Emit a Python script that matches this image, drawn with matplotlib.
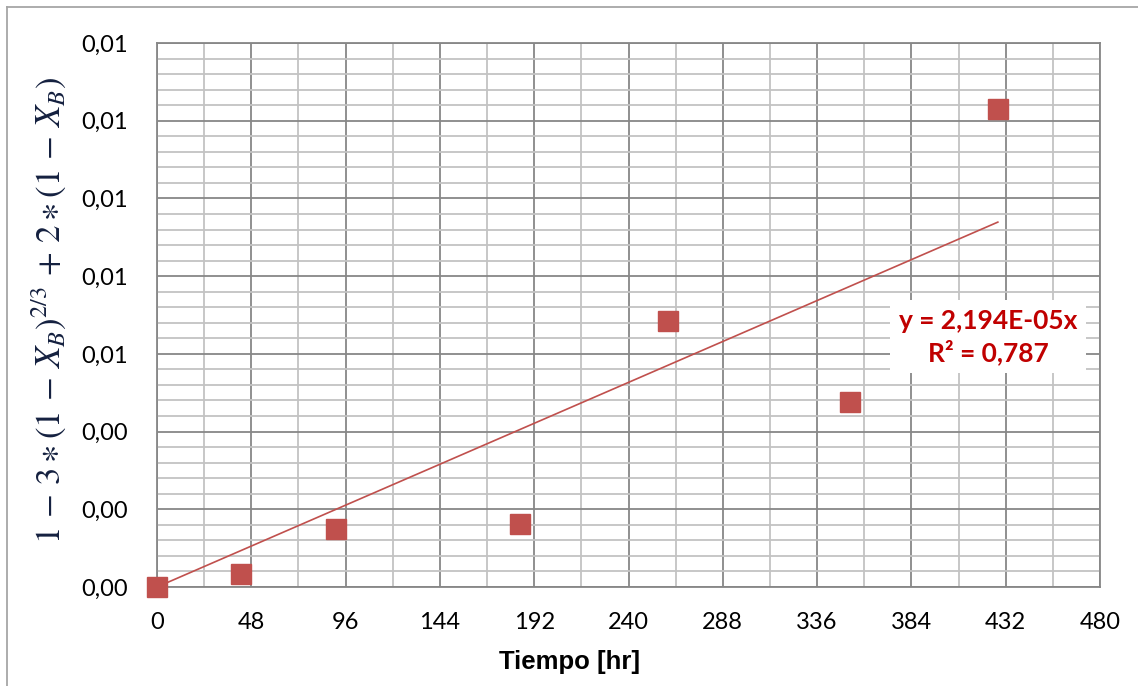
import matplotlib
matplotlib.use("Agg")
import matplotlib.pyplot as plt
from matplotlib.ticker import MultipleLocator, FuncFormatter
from matplotlib.lines import Line2D
import numpy as np

# Measured data: time [hr] vs shrinking-core conversion function
tiempo = [0, 43, 91, 185, 260, 353, 428]
g_xb = [0.0, 0.00034, 0.00149, 0.00161, 0.00685, 0.00476, 0.01230]

# Linear trend through the origin
pendiente = 2.194e-05
r2 = 0.787

x_ticks = [0, 48, 96, 144, 192, 240, 288, 336, 384, 432, 480]
y_ticks = [0.000, 0.002, 0.004, 0.006, 0.008, 0.010, 0.012, 0.014]

marker_color = "#c0504d"
major_grid = "#878787"
minor_grid = "#c3c3c3"

plt.rcParams["mathtext.fontset"] = "stix"

fig = plt.figure(figsize=(11.38, 6.86), dpi=100)
ax = fig.add_axes([157 / 1138, 1 - 587 / 686, (1100 - 157) / 1138, (587 - 43) / 686])

ax.set_xlim(0, 480)
ax.set_ylim(0, 0.014)
ax.set_xticks(x_ticks)
ax.set_yticks(y_ticks)
ax.xaxis.set_minor_locator(MultipleLocator(24))
ax.yaxis.set_minor_locator(MultipleLocator(0.0004))

ax.grid(which="minor", color=minor_grid, linewidth=1.3, zorder=0)
ax.grid(which="major", color=major_grid, linewidth=1.3, zorder=0.5)
ax.set_axisbelow(True)
for s in ax.spines.values():
    s.set_color(major_grid)
    s.set_linewidth(1.3)

ax.tick_params(which="both", length=0)
ax.tick_params(axis="x", labelsize=17, pad=18)
ax.tick_params(axis="y", labelsize=17, pad=21)
for lab in ax.get_xticklabels() + ax.get_yticklabels():
    lab.set_fontfamily("Lato")
ax.yaxis.set_major_formatter(FuncFormatter(lambda v, p: f"{v:.2f}".replace(".", ",")))

# Trend line
xt = np.array([0, max(tiempo)])
ax.plot(xt, pendiente * xt, color=marker_color, linewidth=1.2, zorder=2)

# Data points
ax.plot(tiempo, g_xb, linestyle="none", marker="s", markersize=14.4,
        color=marker_color, zorder=3, clip_on=False)

ax.text(423, 0.00644,
        f"y = {pendiente:.3E}x".replace(".", ",") + "\n" +
        f"R² = {r2:.3f}".replace(".", ","),
        ha="center", va="center", fontsize=19, fontweight="bold",
        fontfamily="Lato", color="#c00000", linespacing=1.3,
        bbox=dict(facecolor="white", edgecolor="none", pad=6), zorder=4)

fig.text(570 / 1138, 1 - 662 / 686, "Tiempo [hr]", fontsize=18.5,
         fontweight="bold", fontfamily="Liberation Sans",
         ha="center", va="center")

fig.text(49 / 1138, 1 - 310 / 686,
         r"$1\,-\,3\ast(1\,-\,X_B)^{2/3}\,+\,2\ast(1\,-\,X_B)$",
         rotation=90, ha="center", va="center", fontsize=25, color="#14203f")

# Chart area frame
fig.add_artist(Line2D([7 / 1138, 7 / 1138], [0, 1 - 7 / 686],
                      transform=fig.transFigure, color="#a6a6a6", linewidth=1.3))
fig.add_artist(Line2D([7 / 1138, 1], [1 - 7 / 686, 1 - 7 / 686],
                      transform=fig.transFigure, color="#a6a6a6", linewidth=1.3))

fig.savefig("out.png", dpi=100)
